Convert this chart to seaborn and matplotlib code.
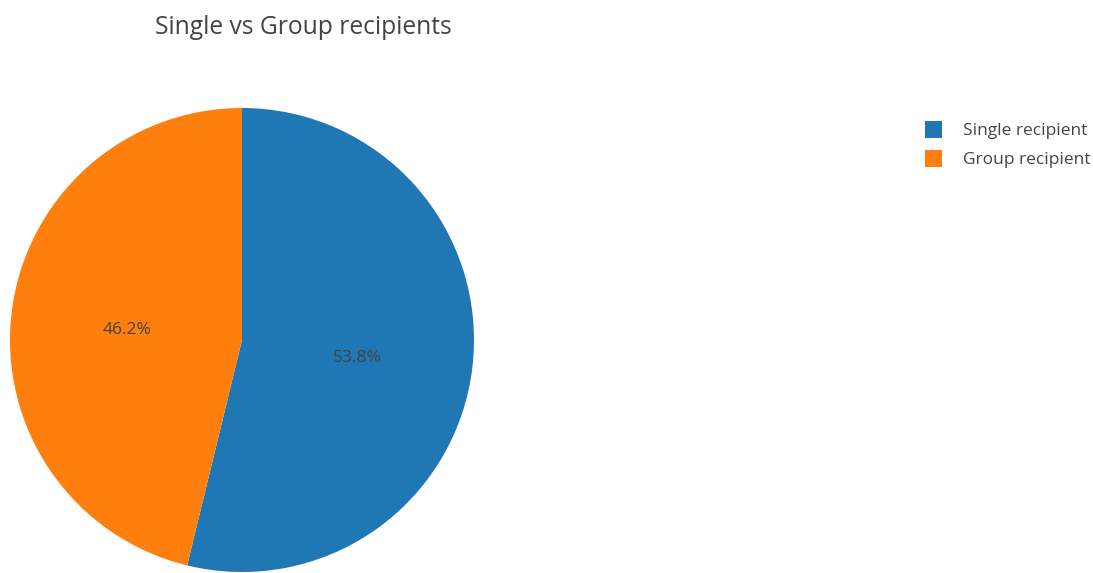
import matplotlib
matplotlib.use("Agg")
import matplotlib.pyplot as plt
from matplotlib.patches import Patch
import seaborn as sns

# Share of messages sent to a single recipient vs a group
categories = ["Single recipient", "Group recipient"]
shares = [53.8, 46.2]
colors = ["#1f77b4", "#ff7f0e"]
title = "Single vs Group recipients"

sns.set_theme(style="white")
plt.rcParams["font.family"] = ["Open Sans", "DejaVu Sans"]

W, H, DPI = 1093, 573, 100
fig = plt.figure(figsize=(W / DPI, H / DPI), dpi=DPI)
fig.patch.set_facecolor("white")

# Pie occupies a square box on the left side of the canvas
cx, cy, r = 242, 340, 232
ax = fig.add_axes([(cx - r) / W, (H - cy - r) / H, 2 * r / W, 2 * r / H])
wedges, texts, autotexts = ax.pie(
    shares,
    colors=colors,
    startangle=90,
    counterclock=False,
    autopct="%.1f%%",
    pctdistance=0.5,
    radius=1.0,
    wedgeprops=dict(linewidth=0),
    textprops=dict(color="#444444", fontsize=12.5),
)
# nudge the percentage labels slightly below the slice midline
for t in autotexts:
    x, y = t.get_position()
    t.set_position((x, y - 0.018))
ax.set_xlim(-1, 1)
ax.set_ylim(-1, 1)
ax.set_aspect("equal")
ax.axis("off")

fig.text(155 / W, 1 - 28 / H, title, ha="left", va="center",
         fontsize=17.7, color="#444444")

handles = [Patch(facecolor=c, edgecolor="none") for c in colors]
fig.legend(handles, categories, loc="upper left",
           bbox_to_anchor=(925 / W, 1 - 121 / H),
           frameon=False, fontsize=12.5, labelcolor="#444444",
           handlelength=1.0, handleheight=1.1, handletextpad=1.2,
           labelspacing=0.62, borderaxespad=0, borderpad=0)

fig.savefig("out.png", dpi=DPI, facecolor="white")
